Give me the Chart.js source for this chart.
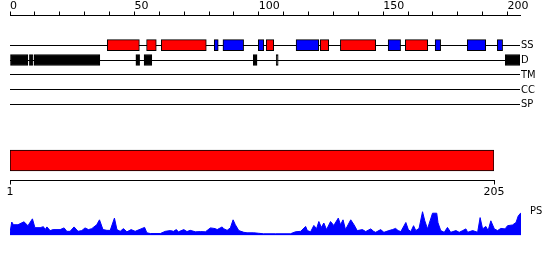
<!DOCTYPE html>
<html>
<head>
<meta charset="utf-8">
<script src="https://cdn.jsdelivr.net/npm/chart.js@4.4.0/dist/chart.umd.min.js"></script>
<style>
  html, body { margin: 0; padding: 0; background: #fff; }
  #wrap { position: relative; width: 550px; height: 260px; overflow: hidden; }
  canvas { position: absolute; left: 0; }
</style>
</head>
<body>
<div id="wrap">
  <canvas id="tracks" width="550" height="111" style="top:0"></canvas>
  <canvas id="domain" width="550" height="60" style="top:140px"></canvas>
  <canvas id="ps" width="550" height="42" style="top:200px"></canvas>
</div>
<script>
const seqStart = 1
const seqLength = 205
const trackLabels = ['SS', 'D', 'TM', 'CC', 'SP']

// secondary structure (red = helix, blue = strand), residue ranges
const ssHelix = [[39.1, 52], [54.9, 58.8], [60.8, 78.9], [103, 106], [124.7, 128.1], [132.8, 147], [158.9, 167.9]]
const ssStrand = [[82.1, 83.7], [85.6, 93.9], [99.8, 102], [115, 124.1], [152, 157], [170.9, 173.1], [183.8, 191.2], [195.9, 198]]
// disordered regions
const disorder = [[0, 7.2], [7.8, 9.1], [9.6, 36.1], [50.6, 52.1], [53.9, 57], [97.8, 99.3], [107, 107.8], [199.1, 205]]

// PS profile, residue position / score
const psPos = [
  0, 0.7, 1.4, 3.2, 5.6, 7.2, 9.0, 10.0, 12.1, 13.4,
  14.1, 14.8, 16.1, 17.3, 20.1, 21.7, 22.8, 24.1, 25.7, 27.3,
  28.8, 30.1, 31.5, 32.8, 34.8, 35.9, 37.3, 38.9, 40.2, 41.9,
  42.9, 44.2, 45.5, 46.9, 48.6, 50.2, 54.0, 54.9, 56.3, 60.3,
  62.3, 64.3, 65.6, 66.7, 67.6, 69.7, 71.0, 72.3, 74.4, 76.4,
  78.4, 80.4, 82.4, 83.1, 85.1, 85.7, 87.1, 88.4, 89.5, 90.4,
  91.8, 93.8, 95.1, 97.8, 99.8, 101.7, 106.5, 112.5, 114.5, 116.6,
  118.6, 119.3, 120.6, 121.9, 123.0, 123.9, 124.9, 125.9, 127.0, 128.6,
  129.9, 131.7, 132.6, 133.6, 134.6, 136.7, 138.0, 139.3, 141.4, 142.7,
  144.7, 146.0, 146.7, 148.7, 150.0, 152.0, 153.4, 154.7, 155.7, 156.8,
  158.8, 159.8, 160.8, 161.9, 162.8, 164.1, 165.5, 166.4, 167.5, 169.5,
  171.2, 171.7, 172.8, 174.2, 175.5, 176.8, 178.9, 180.2, 181.6, 182.9,
  183.6, 185.6, 187.6, 188.6, 189.6, 190.9, 191.8, 192.9, 194.3, 195.6,
  196.9, 198.6, 199.6, 201.6, 203.0, 203.9, 205.0
]
const psVal = [
  0.12, 0.55, 0.44, 0.44, 0.56, 0.40, 0.68, 0.32, 0.32, 0.36,
  0.24, 0.35, 0.20, 0.24, 0.24, 0.31, 0.17, 0.17, 0.35, 0.17,
  0.20, 0.31, 0.24, 0.28, 0.44, 0.64, 0.24, 0.21, 0.21, 0.71,
  0.24, 0.17, 0.28, 0.15, 0.24, 0.17, 0.33, 0.11, 0.08, 0.08,
  0.17, 0.20, 0.17, 0.24, 0.15, 0.24, 0.16, 0.21, 0.15, 0.16,
  0.15, 0.31, 0.28, 0.24, 0.35, 0.28, 0.21, 0.31, 0.64, 0.44,
  0.20, 0.13, 0.11, 0.11, 0.09, 0.07, 0.07, 0.07, 0.15, 0.17,
  0.37, 0.20, 0.15, 0.41, 0.28, 0.57, 0.33, 0.51, 0.24, 0.57,
  0.41, 0.71, 0.44, 0.64, 0.24, 0.64, 0.44, 0.20, 0.24, 0.16,
  0.27, 0.16, 0.13, 0.24, 0.13, 0.20, 0.24, 0.29, 0.20, 0.16,
  0.53, 0.24, 0.16, 0.40, 0.20, 0.29, 0.97, 0.60, 0.27, 0.91,
  0.91, 0.52, 0.20, 0.13, 0.33, 0.13, 0.20, 0.13, 0.20, 0.27,
  0.13, 0.20, 0.13, 0.73, 0.27, 0.37, 0.20, 0.60, 0.27, 0.20,
  0.29, 0.27, 0.40, 0.43, 0.53, 0.80, 0.93
]

Chart.defaults.font.family = "'DejaVu Sans', sans-serif"
Chart.defaults.font.size = 11
Chart.defaults.color = '#000'
Chart.defaults.animation = false
Chart.defaults.plugins.legend.display = false
Chart.defaults.plugins.tooltip.enabled = false

const labelFont = { family: "'DejaVu Sans Condensed', 'DejaVu Sans', sans-serif", size: 11, lineHeight: 1 }
const toBars = (ranges, row) => ranges.map(r => ({ x: r, y: row }))

// feature tracks
new Chart(document.getElementById('tracks'), {
  type: 'bar',
  data: {
    labels: ['', ''].concat(trackLabels),
    datasets: [
      { data: toBars(ssHelix, 'SS'), backgroundColor: '#ff0000' },
      { data: toBars(ssStrand, 'SS'), backgroundColor: '#0000ff' },
      { data: toBars(disorder, 'D'), backgroundColor: '#000000' }
    ]
  },
  options: {
    indexAxis: 'y',
    responsive: false,
    layout: { padding: { left: 10, right: 0, top: 0, bottom: 0 } },
    datasets: {
      bar: { grouped: false, barThickness: 11, borderWidth: 1, borderColor: '#000', borderSkipped: false }
    },
    scales: {
      x: {
        type: 'linear',
        position: 'top',
        min: 0,
        max: seqLength,
        afterBuildTicks: s => { s.ticks = s.ticks.filter(t => t.value % 10 === 0) },
        afterFit: s => { s.height = 15.5 },
        ticks: {
          stepSize: 10,
          includeBounds: false,
          autoSkip: false,
          maxRotation: 0,
          align: 'start',
          padding: -1,
          callback: v => (v % 50 === 0 ? String(v) : '')
        },
        grid: { drawOnChartArea: false, tickLength: 4, color: '#000' },
        border: { color: '#000' }
      },
      y: {
        type: 'category',
        position: 'right',
        offset: false,
        afterFit: s => { s.width = 30 },
        ticks: { font: labelFont, padding: 1, autoSkip: false },
        grid: {
          offset: false,
          drawTicks: false,
          color: c => (c.index >= 2 ? '#000' : 'rgba(0,0,0,0)')
        },
        border: { display: false }
      }
    }
  }
})

// full-length domain bar
new Chart(document.getElementById('domain'), {
  type: 'bar',
  data: {
    labels: ['protein'],
    datasets: [{
      data: [{ x: [seqStart, seqLength], y: 'protein' }],
      backgroundColor: '#ff0000',
      borderColor: '#000',
      borderWidth: 1,
      borderSkipped: false,
      barThickness: 21
    }]
  },
  options: {
    indexAxis: 'y',
    responsive: false,
    layout: { padding: { left: 10, right: 56, top: 0.5, bottom: 0 } },
    scales: {
      x: {
        type: 'linear',
        min: seqStart,
        max: seqLength,
        afterBuildTicks: s => { s.ticks = [{ value: seqStart }, { value: seqLength }] },
        afterFit: s => { s.height = 19.5 },
        ticks: { padding: 2, maxRotation: 0, autoSkip: false, font: { lineHeight: 1 } },
        grid: { drawOnChartArea: false, tickLength: 4, color: '#000' },
        border: { color: '#000' }
      },
      y: { display: false }
    }
  }
})

// PS profile
new Chart(document.getElementById('ps'), {
  type: 'line',
  data: {
    datasets: [{
      data: psPos.map((p, i) => ({ x: p, y: psVal[i] })),
      borderColor: '#0000ff',
      backgroundColor: '#0000ff',
      borderWidth: 1,
      fill: 'origin',
      pointRadius: 0,
      tension: 0
    }]
  },
  options: {
    responsive: false,
    layout: { padding: { left: 10, right: 0, top: 11, bottom: 0 } },
    scales: {
      x: { type: 'linear', min: 0, max: seqLength, display: false },
      y: {
        position: 'right',
        min: 0,
        max: 1,
        afterBuildTicks: s => { s.ticks = [{ value: 1 }] },
        afterFit: s => { s.width = 29 },
        ticks: { font: labelFont, padding: 1, callback: () => 'PS' },
        grid: { display: false },
        border: { display: false }
      }
    }
  }
})
</script>
</body>
</html>
